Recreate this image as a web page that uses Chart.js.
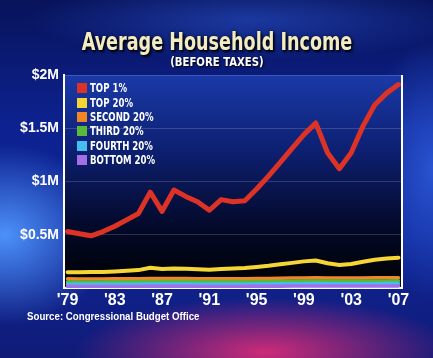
<!DOCTYPE html>
<html>
<head>
<meta charset="utf-8">
<script src="https://cdn.jsdelivr.net/npm/chart.js@4.4.0/dist/chart.umd.min.js"></script>
<style>
  html, body { margin: 0; padding: 0; }
  body {
    width: 433px; height: 358px; overflow: hidden; position: relative;
    background:
      radial-gradient(ellipse 110px 90px at 5px 235px, rgba(80,150,255,0.95), rgba(80,150,255,0) 100%),
      radial-gradient(ellipse 190px 55px at 265px 352px, rgba(225,45,120,0.9), rgba(225,45,120,0) 100%),
      radial-gradient(ellipse 70px 130px at 433px 170px, rgba(50,100,230,0.75), rgba(50,100,230,0) 100%),
      radial-gradient(ellipse 220px 40px at 250px 20px, rgba(40,80,200,0.6), rgba(40,80,200,0) 100%),
      linear-gradient(180deg, #08135a 0%, #0d2290 35%, #0e2596 65%, #101b78 100%);
  }
  #wrap { position: absolute; left: 0; top: 0; width: 433px; height: 358px; }
  .title {
    position: absolute; left: 0; width: 433px; text-align: center;
    font-family: "DejaVu Sans Condensed", "Liberation Sans Narrow", sans-serif; font-weight: bold;
  }
  .title span { display: inline-block; transform-origin: center; }
  #t1 { top: 30px; font-size: 24px; line-height: 24px; color: #f3ecc2; text-shadow: 2px 2px 3px #000, 0 0 4px rgba(0,0,0,0.7); }
  #t1 span { transform: scaleX(0.815); }
  #t2 { top: 55px; font-size: 12.5px; line-height: 13px; color: #fff; text-shadow: 1px 1px 2px #000; }
  #t2 span { transform: scaleX(0.9); }
  #legend { position: absolute; left: 77px; top: 81px; }
  .row { height: 14.4px; display: flex; align-items: center;
    font-family: "DejaVu Sans Condensed", sans-serif; font-weight: bold;
    font-size: 11.5px; color: #fff; }
  .row .txt { display: inline-block; transform: scaleX(0.83); transform-origin: left center; white-space: nowrap; }
  .box { width: 10px; height: 10px; margin-right: 3px; }
  #source { position: absolute; left: 27px; top: 311px; font-family: "Liberation Sans", Arial, sans-serif;
    font-weight: bold; font-size: 10px; line-height: 12px; color: #fff; transform: scaleX(0.97); transform-origin: left center; }
</style>
</head>
<body>
<div id="wrap"><canvas id="c" width="433" height="358"></canvas></div>
<div class="title" id="t1"><span>Average Household Income</span></div>
<div class="title" id="t2"><span>(BEFORE TAXES)</span></div>
<div id="legend"></div>
<div id="source">Source: Congressional Budget Office</div>
<script>
// values in millions of dollars
const years = [1979,1980,1981,1982,1983,1984,1985,1986,1987,1988,1989,1990,1991,1992,1993,
               1994,1995,1996,1997,1998,1999,2000,2001,2002,2003,2004,2005,2006,2007];
const tickYears = [1979, 1983, 1987, 1991, 1995, 1999, 2003, 2007];
const yTicks = [0, 0.5, 1, 1.5, 2];

const top1 = [0.53,0.51,0.49,0.53,0.58,0.64,0.70,0.90,0.72,0.92,0.86,0.81,0.73,0.83,0.81,
              0.82,0.93,1.05,1.18,1.31,1.44,1.55,1.27,1.12,1.27,1.52,1.72,1.83,1.91];
const top20 = [0.149,0.148,0.150,0.151,0.155,0.161,0.168,0.190,0.178,0.182,0.180,0.176,0.172,0.178,0.182,
               0.188,0.197,0.208,0.222,0.236,0.250,0.258,0.232,0.216,0.226,0.246,0.265,0.277,0.285];
const second20 = [0.086,0.085,0.085,0.085,0.086,0.087,0.088,0.090,0.089,0.089,0.089,0.088,0.087,0.088,0.088,
                  0.088,0.089,0.090,0.091,0.093,0.095,0.097,0.095,0.094,0.094,0.095,0.096,0.097,0.097];
const third20 = [0.058,0.057,0.057,0.057,0.058,0.059,0.060,0.061,0.061,0.061,0.061,0.060,0.060,0.060,0.060,
                 0.060,0.061,0.062,0.063,0.064,0.065,0.066,0.065,0.065,0.065,0.065,0.066,0.066,0.067];
const fourth20 = [0.036,0.035,0.035,0.035,0.035,0.036,0.036,0.037,0.037,0.037,0.037,0.036,0.036,0.036,0.036,
                  0.036,0.037,0.038,0.039,0.040,0.041,0.042,0.041,0.041,0.041,0.041,0.041,0.042,0.042];
const bottom20 = [0.016,0.015,0.015,0.015,0.015,0.015,0.015,0.016,0.016,0.016,0.016,0.016,0.015,0.015,0.015,
                  0.016,0.016,0.017,0.017,0.018,0.019,0.019,0.019,0.018,0.018,0.018,0.018,0.018,0.019];

const seriesNames = ['TOP 1%', 'TOP 20%', 'SECOND 20%', 'THIRD 20%', 'FOURTH 20%', 'BOTTOM 20%'];
const seriesColors = ['#dd3326', '#f6d634', '#f08626', '#5cb83a', '#45bdf0', '#a46ee6'];
const seriesWidths = [5, 4, 3.5, 3.5, 3.5, 3.5];
const seriesValues = [top1, top20, second20, third20, fourth20, bottom20];

// legend
const legend = document.getElementById('legend');
seriesNames.forEach((name, i) => {
  const row = document.createElement('div');
  row.className = 'row';
  row.innerHTML = `<span class="box" style="background:${seriesColors[i]}"></span><span class="txt">${name}</span>`;
  legend.appendChild(row);
});

// plot area background + right frame line
const plotBg = {
  id: 'plotBg',
  beforeDraw(chart) {
    const { ctx, chartArea: a } = chart;
    const g = ctx.createLinearGradient(0, a.top, 0, a.bottom);
    g.addColorStop(0, '#1a3aa8');
    g.addColorStop(0.35, '#0d2072');
    g.addColorStop(0.7, '#040a2c');
    g.addColorStop(1, '#000000');
    ctx.save();
    ctx.fillStyle = g;
    ctx.fillRect(a.left, a.top, a.right - a.left, a.bottom - a.top);
    ctx.restore();
  },
  afterDraw(chart) {
    const { ctx, chartArea: a } = chart;
    ctx.save();
    ctx.strokeStyle = '#ffffff';
    ctx.lineWidth = 2;
    ctx.beginPath();
    ctx.moveTo(a.right, a.top);
    ctx.lineTo(a.right, a.bottom + 1);
    ctx.stroke();
    ctx.restore();
  }
};

const datasets = seriesNames.map((name, i) => ({
  label: name,
  data: years.map((yr, j) => ({ x: yr, y: seriesValues[i][j] })),
  borderColor: seriesColors[i],
  borderWidth: seriesWidths[i],
  pointRadius: 0,
  tension: 0,
  borderJoinStyle: 'round',
  borderCapStyle: 'round',
  fill: false
})).reverse();

new Chart(document.getElementById('c'), {
  type: 'line',
  data: { datasets },
  options: {
    responsive: false,
    animation: false,
    layout: { padding: { top: 75, right: 31, bottom: 0, left: 0 } },
    plugins: { legend: { display: false }, tooltip: { enabled: false } },
    scales: {
      x: {
        type: 'linear', min: 1978.7, max: 2007.3,
        afterBuildTicks: s => { s.ticks = tickYears.map(v => ({ value: v })); },
        afterFit: s => { s.height = 70; },
        grid: { display: false, drawTicks: false },
        border: { color: '#ffffff', width: 2 },
        ticks: {
          autoSkip: false, maxRotation: 0, padding: 3, color: '#ffffff',
          font: { family: 'Liberation Sans', weight: 'bold', size: 16 },
          callback: v => "'" + String(v).slice(2)
        }
      },
      y: {
        min: 0, max: 2,
        afterBuildTicks: s => { s.ticks = yTicks.map(v => ({ value: v })); },
        afterFit: s => { s.width = 64; },
        grid: {
          drawTicks: false,
          color: c => c.tick.value === 0 ? 'rgba(0,0,0,0)' : 'rgba(255,255,255,0.16)'
        },
        border: { color: '#ffffff', width: 2 },
        ticks: {
          padding: 5, color: '#ffffff',
          font: { family: 'Liberation Sans', weight: 'bold', size: 14 },
          callback: v => v === 0 ? '' : '$' + v + 'M'
        }
      }
    }
  },
  plugins: [plotBg]
});
</script>
</body>
</html>
